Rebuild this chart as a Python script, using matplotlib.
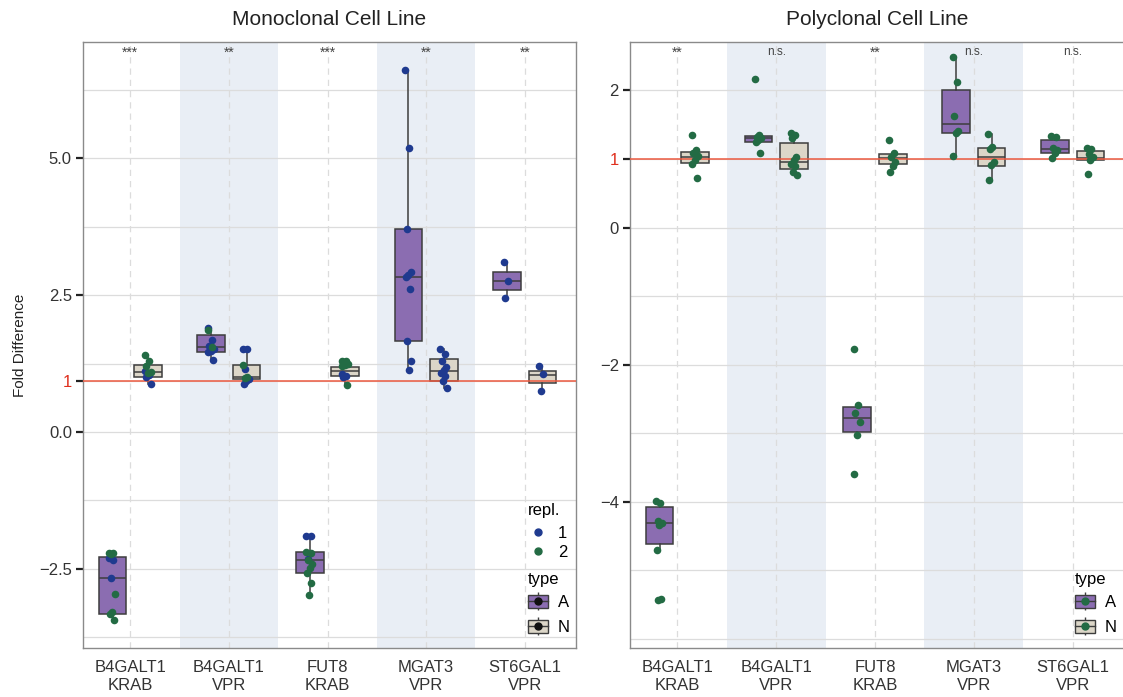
import numpy as np
import matplotlib
matplotlib.use("Agg")
import matplotlib.pyplot as plt
from matplotlib.patches import Patch
from matplotlib.lines import Line2D
from matplotlib.legend_handler import HandlerTuple

plt.rcParams['font.family'] = ['Liberation Sans', 'DejaVu Sans']

categories = ["B4GALT1\nKRAB", "B4GALT1\nVPR", "FUT8\nKRAB", "MGAT3\nVPR", "ST6GAL1\nVPR"]

# monoclonal: points per category, split by replicate
mono_A_rep1 = [[-2.31, -2.35, -2.67], [1.90, 1.68, 1.58, 1.52, 1.48, 1.46, 1.32],
               [-1.90, -1.90, -2.32], [6.62, 5.19, 3.72, 2.93, 2.87, 2.84, 2.62, 1.66, 1.29, 1.13],
               [3.10, 2.76, 2.45]]
mono_A_rep2 = [[-2.21, -2.22, -2.24, -2.96, -3.30, -3.32, -3.44], [1.87, 1.55],
               [-2.20, -2.22, -2.35, -2.42, -2.49, -2.57, -2.76, -2.99], [], []]
mono_N_rep1 = [[1.12, 1.05, 1.00, 0.87], [1.52, 1.52, 1.16, 0.96, 0.93, 0.88], [1.06, 1.03, 1.00],
               [1.51, 1.42, 1.30, 1.18, 1.13, 1.08, 1.02, 0.93, 0.80], [1.20, 1.06, 0.75]]
mono_N_rep2 = [[1.40, 1.29, 1.20, 1.10, 1.08], [1.23, 1.00, 0.98],
               [1.30, 1.29, 1.27, 1.25, 1.22, 1.20, 0.85], [], []]

# box stats: q1, median, q3, lower whisker, upper whisker
mono_A_q1 = [-3.32, 1.46, -2.57, 1.66, 2.59]
mono_A_med = [-2.67, 1.55, -2.35, 2.84, 2.76]
mono_A_q3 = [-2.29, 1.77, -2.20, 3.72, 2.93]
mono_A_lo = [-3.44, 1.32, -2.99, 1.13, 2.45]
mono_A_hi = [-2.21, 1.89, -1.90, 6.62, 3.10]
mono_N_q1 = [1.01, 0.97, 1.03, 0.94, 0.89]
mono_N_med = [1.09, 1.01, 1.11, 1.12, 1.05]
mono_N_q3 = [1.22, 1.22, 1.19, 1.34, 1.12]
mono_N_lo = [0.87, 0.88, 0.85, 0.80, 0.75]
mono_N_hi = [1.40, 1.52, 1.30, 1.51, 1.20]

# polyclonal: only replicate 2
poly_A = [[-3.99, -4.02, -4.28, -4.31, -4.33, -4.70, -5.41, -5.43],
          [2.17, 1.35, 1.32, 1.30, 1.28, 1.25, 1.09],
          [-1.77, -2.58, -2.70, -2.83, -3.02, -3.59],
          [2.48, 2.12, 1.62, 1.41, 1.38, 1.04],
          [1.33, 1.32, 1.16, 1.13, 1.08, 1.02]]
poly_N = [[1.35, 1.13, 1.08, 1.04, 0.99, 0.92, 0.72],
          [1.38, 1.35, 1.30, 1.03, 0.98, 0.93, 0.89, 0.81, 0.76],
          [1.28, 1.08, 1.03, 0.96, 0.90, 0.81],
          [1.37, 1.17, 1.14, 0.95, 0.91, 0.70],
          [1.16, 1.14, 1.07, 1.03, 0.99, 0.78]]
poly_A_q1 = [-4.61, 1.25, -2.98, 1.38, 1.08]
poly_A_med = [-4.31, 1.30, -2.77, 1.51, 1.15]
poly_A_q3 = [-4.08, 1.33, -2.62, 2.00, 1.27]
poly_A_lo = [-4.70, 1.25, -3.02, 1.04, 1.02]
poly_A_hi = [-3.99, 1.33, -2.58, 2.48, 1.33]
poly_N_q1 = [0.94, 0.85, 0.93, 0.90, 0.98]
poly_N_med = [1.03, 0.96, 1.02, 1.03, 1.02]
poly_N_q3 = [1.10, 1.23, 1.07, 1.165, 1.12]
poly_N_lo = [0.92, 0.76, 0.90, 0.70, 0.98]
poly_N_hi = [1.13, 1.38, 1.08, 1.37, 1.14]

mono_sig = ["***", "**", "***", "**", "**"]
poly_sig = ["**", "n.s.", "**", "n.s.", "n.s."]

A_COL = "#8b6db1"
N_COL = "#dcd6c8"
EDGE = "#3d3d3d"
BLUE = "#1f3a8f"
GREEN = "#236b44"
RED = "#ec5a40"
BAND = "#e9eef5"
GRID = "#dcdcdc"

OFF = 0.18
BOXW = 0.28


def stats(q1, med, q3, lo, hi):
    return [dict(q1=a, med=b, q3=c, whislo=d, whishi=e, fliers=[])
            for a, b, c, d, e in zip(q1, med, q3, lo, hi)]


def jitter(n):
    # small fixed spread so stacked points stay visible
    return ((np.arange(n) * 0.618) % 1 - 0.5) * 0.07


def boxes(ax, st, pos, col):
    ax.bxp(st, positions=pos, widths=BOXW, patch_artist=True, showfliers=False,
           boxprops=dict(facecolor=col, edgecolor=EDGE, lw=1.1),
           medianprops=dict(color=EDGE, lw=1.1),
           whiskerprops=dict(color=EDGE, lw=1.1), showcaps=False,
           zorder=3, manage_ticks=False)


def points(ax, groups, shift, color):
    for i, vals in enumerate(groups):
        if not vals:
            continue
        x = i + 1 + shift + jitter(len(vals))
        ax.scatter(x, vals, s=30, color=color, zorder=5, linewidths=0)


fig = plt.figure(figsize=(11.23, 6.97), dpi=100)
H = 697.0
W = 1123.0
ax1 = fig.add_axes([83 / W, 1 - 648 / H, 493 / W, 606 / H])
ax2 = fig.add_axes([630 / W, 1 - 648 / H, 494 / W, 606 / H])

panels = [
    (ax1, "Monoclonal Cell Line", (-3.95, 7.13), 0.94,
     [5.0, 2.5, 0.94, 0.0, -2.5], ["5.0", "2.5", "1", "0.0", "\u22122.5"],
     [6.25, 3.75, 1.25, -1.25, -3.75], mono_sig),
    (ax2, "Polyclonal Cell Line", (-6.13, 2.705), 1.0,
     [2, 1, 0, -2, -4], ["2", "1", "0", "\u22122", "\u22124"],
     [-1, -3, -5, -6], poly_sig),
]

x = np.arange(1, len(categories) + 1)
for ax, title, ylim, ref, yt, ytl, ymin, sig in panels:
    ax.set_xlim(0.52, 5.52)
    ax.set_ylim(*ylim)
    for i in (2, 4):
        ax.axvspan(i - 0.5, i + 0.5, color=BAND, lw=0, zorder=0)
    for m in ymin:
        ax.axhline(m, color=GRID, lw=0.9, zorder=1)
    for t in yt:
        ax.axhline(t, color=GRID, lw=0.9, zorder=1)
    for xi in x:
        ax.axvline(xi, color=GRID, lw=0.9, ls=(0, (5, 4)), zorder=1)
    ax.axhline(ref, color=RED, lw=1.1, zorder=4)
    ax.set_xticks(x)
    ax.set_xticklabels(categories, fontsize=12, color="#333333", linespacing=1.25)
    ax.tick_params(axis='x', length=0, pad=9)
    ax.set_yticks(yt)
    ax.set_yticklabels(ytl, fontsize=12, color="#333333")
    ax.tick_params(axis='y', length=5, width=1.6, color="#222222", pad=3)
    for lab, tk in zip(ax.get_yticklabels(), ax.yaxis.get_major_ticks()):
        if lab.get_text() == "1":
            lab.set_color("#e0301e")
            tk.tick1line.set_color(RED)
    for sp in ax.spines.values():
        sp.set_color("#8a8a8a")
        sp.set_linewidth(1.0)
    ax.set_title(title, fontsize=15, color="#222222", pad=12)
    for xi, s in zip(x, sig):
        ax.text(xi, 0.983, s, transform=ax.get_xaxis_transform(), ha='center', va='center',
                fontsize=10 if "*" in s else 8.5, color="#444444")

ax2.spines['right'].set_visible(False)

boxes(ax1, stats(mono_A_q1, mono_A_med, mono_A_q3, mono_A_lo, mono_A_hi), x - OFF, A_COL)
boxes(ax1, stats(mono_N_q1, mono_N_med, mono_N_q3, mono_N_lo, mono_N_hi), x + OFF, N_COL)
points(ax1, mono_A_rep1, -OFF, BLUE)
points(ax1, mono_A_rep2, -OFF, GREEN)
points(ax1, mono_N_rep1, OFF, BLUE)
points(ax1, mono_N_rep2, OFF, GREEN)

boxes(ax2, stats(poly_A_q1, poly_A_med, poly_A_q3, poly_A_lo, poly_A_hi), x - OFF, A_COL)
boxes(ax2, stats(poly_N_q1, poly_N_med, poly_N_q3, poly_N_lo, poly_N_hi), x + OFF, N_COL)
points(ax2, poly_A, -OFF, GREEN)
points(ax2, poly_N, OFF, GREEN)

fig.text(20 / W, 1 - 345 / H, "Fold Difference", rotation=90, ha='center', va='center',
         fontsize=11, color="#222222")


def type_handles(dot):
    hs = []
    for c in (A_COL, N_COL):
        whisk = Line2D([], [], marker='|', markersize=13, mew=1, color=EDGE, ls='')
        box = Patch(facecolor=c, edgecolor=EDGE, lw=1)
        med = Line2D([], [], color=EDGE, lw=1)
        pt = Line2D([], [], marker='o', markersize=5, color=dot, ls='')
        hs.append((whisk, box, med, pt))
    return hs


leg_kw = dict(frameon=False, fontsize=12, title_fontsize=12, alignment='left',
              borderpad=0, borderaxespad=0, handletextpad=0.6, loc='upper left')

repl = ax1.legend([Line2D([], [], marker='o', markersize=5, color=BLUE, ls=''),
                   Line2D([], [], marker='o', markersize=5, color=GREEN, ls='')],
                  ["1", "2"], title="repl.", bbox_to_anchor=(0.902, 0.24),
                  handlelength=1.2, labelspacing=0.25, **leg_kw)
repl._legend_box.sep = 6
ax1.add_artist(repl)
lt = ax1.legend(type_handles("#111111"), ["A", "N"], title="type", bbox_to_anchor=(0.902, 0.126),
                handler_map={tuple: HandlerTuple(ndivide=1, pad=0)},
                handlelength=1.2, handleheight=0.8, labelspacing=0.6, **leg_kw)
lt._legend_box.sep = 6
lr = ax2.legend(type_handles(GREEN), ["A", "N"], title="type", bbox_to_anchor=(0.9, 0.126),
                handler_map={tuple: HandlerTuple(ndivide=1, pad=0)},
                handlelength=1.2, handleheight=0.8, labelspacing=0.6, **leg_kw)
lr._legend_box.sep = 6

fig.savefig("out.png", dpi=100)
